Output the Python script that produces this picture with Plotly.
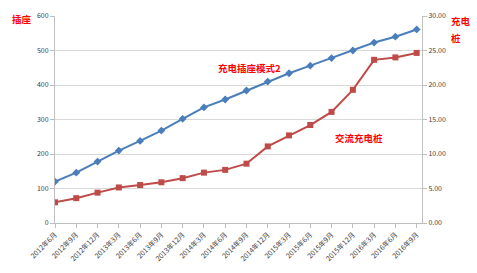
import plotly.graph_objects as go

# Quarterly periods
periods = ["2012年6月", "2012年9月", "2012年12月", "2013年3月", "2013年6月", "2013年9月",
           "2013年12月", "2014年3月", "2014年6月", "2014年9月", "2014年12月", "2015年3月",
           "2015年6月", "2015年9月", "2015年12月", "2016年3月", "2016年6月", "2016年9月"]

# 充电插座模式2 (left axis)
socket_mode2 = [120, 146, 178, 210, 238, 268, 302, 335, 358, 384, 410, 434,
                456, 478, 500, 523, 540, 561]

# 交流充电桩 (right axis)
ac_pile = [3.0, 3.6, 4.4, 5.15, 5.5, 5.9, 6.5, 7.3, 7.7, 8.6, 11.1, 12.7,
           14.2, 16.1, 19.3, 23.65, 24.0, 24.65]

left_ticks = [0, 100, 200, 300, 400, 500, 600]
right_ticks = [0, 5, 10, 15, 20, 25, 30]

BLUE = "#4a7ebb"
RED = "#be4b48"
TXT = "#404040"
FONT = "Noto Sans CJK SC"

fig = go.Figure()
fig.add_trace(go.Scatter(
    x=periods, y=socket_mode2, mode="lines+markers", name="充电插座模式2",
    line=dict(color=BLUE, width=2), marker=dict(symbol="diamond", size=6, color=BLUE),
    yaxis="y",
))
fig.add_trace(go.Scatter(
    x=periods, y=ac_pile, mode="lines+markers", name="交流充电桩",
    line=dict(color=RED, width=2), marker=dict(symbol="square", size=6, color=RED),
    yaxis="y2",
))

fig.update_layout(
    width=477, height=273,
    margin=dict(l=55, r=55, t=10, b=46),
    paper_bgcolor="white", plot_bgcolor="white",
    showlegend=False,
    font=dict(family=FONT, size=7, color=TXT),
    xaxis=dict(
        type="category", range=[0, 17.25], tickangle=-45,
        showline=True, linecolor="#bfbfbf", linewidth=1,
        ticks="outside", ticklen=4, tickcolor="#bfbfbf",
        showgrid=False, tickfont=dict(size=7, color=TXT),
    ),
    yaxis=dict(
        range=[0, 600], tickvals=left_ticks, ticktext=[str(v) for v in left_ticks],
        showline=True, linecolor="#bfbfbf", linewidth=1,
        ticks="outside", ticklen=4, tickcolor="#bfbfbf",
        showgrid=True, gridcolor="#d9d9d9", gridwidth=1,
        zeroline=False, tickfont=dict(size=7, color=TXT),
    ),
    yaxis2=dict(
        range=[0, 30], overlaying="y", side="right",
        tickvals=right_ticks, ticktext=[f"{v:.2f}" for v in right_ticks],
        showline=True, linecolor="#bfbfbf", linewidth=1,
        ticks="outside", ticklen=4, tickcolor="#bfbfbf",
        showgrid=False, zeroline=False, tickfont=dict(size=7, color=TXT),
    ),
)

label_font = dict(family=FONT, size=9.5, color="#ff0000")
fig.add_annotation(xref="paper", yref="paper", x=-0.0886, y=0.987, text="<b>插座</b>",
                   showarrow=False, font=label_font, xanchor="center", yanchor="middle")
fig.add_annotation(xref="paper", yref="paper", x=1.0736, y=0.977, text="<b>充电</b>",
                   showarrow=False, font=label_font, xanchor="left", yanchor="middle")
fig.add_annotation(xref="paper", yref="paper", x=1.0736, y=0.894, text="<b>桩</b>",
                   showarrow=False, font=label_font, xanchor="left", yanchor="middle")
fig.add_annotation(xref="paper", yref="paper", x=0.529, y=0.751, text="<b>充电插座模式2</b>",
                   showarrow=False, font=label_font, xanchor="center", yanchor="middle")
fig.add_annotation(xref="paper", yref="paper", x=0.828, y=0.411, text="<b>交流充电桩</b>",
                   showarrow=False, font=label_font, xanchor="center", yanchor="middle")

fig.write_html("out.html")
